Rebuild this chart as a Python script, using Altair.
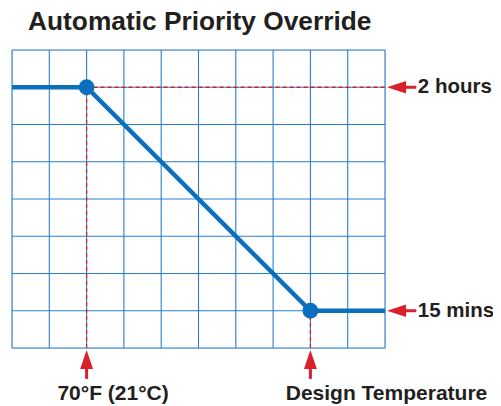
import altair as alt
import pandas as pd

# ---- data ----
grid_x = list(range(0, 11))
grid_y = list(range(0, 9))
line_x = [0, 2, 8, 10]
line_y = [7, 7, 1, 1]
marker_x = [2, 8]
marker_y = [7, 1]
levels = [7, 1]
level_labels = ["2 hours", "15 mins"]
temps = [2, 8]
temp_labels = ["70°F (21°C)", "Design Temperature"]
temp_label_x = [2.71, 10.04]
title_text = "Automatic Priority Override"

BLUE = "#0a6fbd"
GRID = "#2a7fcb"
RED = "#d9202d"
INK = "#231f20"
FONT = "Liberation Sans"

xs = alt.Scale(domain=[0, 10], nice=False, zero=False)
ys = alt.Scale(domain=[0, 8], nice=False, zero=False)

def X(f):
    return alt.X(f, type="quantitative", scale=xs, axis=None)

def Y(f):
    return alt.Y(f, type="quantitative", scale=ys, axis=None)

vgrid = alt.Chart(pd.DataFrame({"x": grid_x})).mark_rule(color=GRID, strokeWidth=1.1).encode(x=X("x"))
hgrid = alt.Chart(pd.DataFrame({"y": grid_y})).mark_rule(color=GRID, strokeWidth=1.1).encode(y=Y("y"))

# dashed guides
hd = pd.DataFrame({"x": [temps[0]], "x2": [10], "y": [levels[0]]})
hdash = alt.Chart(hd).mark_rule(color=RED, strokeWidth=1.3, strokeDash=[4, 3]).encode(
    x=X("x"), x2="x2", y=Y("y"))
vd = pd.DataFrame({"x": temps, "y": [0, 0], "y2": levels})
vdash = alt.Chart(vd).mark_rule(color=RED, strokeWidth=1.3, strokeDash=[4, 3]).encode(
    x=X("x"), y=Y("y"), y2="y2")

line = alt.Chart(pd.DataFrame({"x": line_x, "y": line_y})).mark_line(
    color=BLUE, strokeWidth=4.5, clip=False).encode(x=X("x"), y=Y("y"))
pts = alt.Chart(pd.DataFrame({"x": marker_x, "y": marker_y})).mark_point(
    filled=True, color=BLUE, size=250, opacity=1, shape="circle").encode(x=X("x"), y=Y("y"))

# right arrows
rs = pd.DataFrame({"x": [10.31] * 2, "x2": [10.84] * 2, "y": levels, "label": level_labels})
rshaft = alt.Chart(rs).mark_rule(color=RED, strokeWidth=3).encode(x=X("x"), x2="x2", y=Y("y"))
rhead = alt.Chart(rs).mark_point(filled=True, color=RED, opacity=1, size=361,
                                 shape="M-1,0L1,-0.65L1,0.65Z").encode(x=X("x"), y=Y("y"))
rlab = alt.Chart(pd.DataFrame({"x": [10.88] * 2, "y": levels, "label": level_labels})).mark_text(
    align="left", baseline="middle", font=FONT, fontSize=20.5, fontWeight="bold", color=INK
).encode(x=X("x"), y=Y("y"), text="label:N")

# bottom arrows
bs = pd.DataFrame({"x": temps, "y": [-0.31] * 2, "y2": [-0.83] * 2})
bshaft = alt.Chart(bs).mark_rule(color=RED, strokeWidth=3).encode(x=X("x"), y=Y("y"), y2="y2")
bhead = alt.Chart(bs).mark_point(filled=True, color=RED, opacity=1, size=361,
                                 shape="M0,-1L0.68,1L-0.68,1Z").encode(x=X("x"), y=Y("y"))
blab = alt.Chart(pd.DataFrame({"x": temp_label_x, "y": [-1.396] * 2, "label": temp_labels})).mark_text(
    align="center", baseline="alphabetic", font=FONT, fontSize=21, fontWeight="bold", color=INK
).encode(x=X("x"), y=Y("y"), text="label:N")

title = alt.Chart(pd.DataFrame({"x": [0.43], "y": [8.55], "t": [title_text]})).mark_text(
    align="left", baseline="alphabetic", font=FONT, fontSize=26.3, fontWeight="bold", color=INK
).encode(x=X("x"), y=Y("y"), text="t:N")

chart = alt.layer(
    vgrid, hgrid, hdash, vdash, line, pts, rshaft, rhead, rlab, bshaft, bhead, blab, title
).properties(
    width=373, height=298,
    autosize=alt.AutoSizeParams(type="none"),
    padding={"left": 4, "top": 42, "right": 108, "bottom": 56},
).configure_view(stroke=None).configure(background="white")

chart.save("out.html", embed_options={"renderer": "svg", "actions": False})
